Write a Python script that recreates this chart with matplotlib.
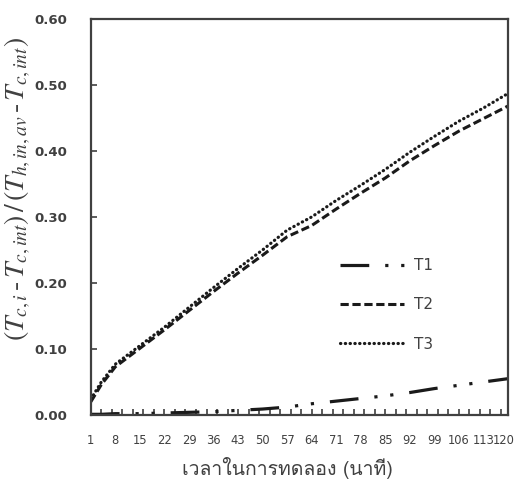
import numpy as np
import matplotlib
matplotlib.use('Agg')
import matplotlib.pyplot as plt
from matplotlib import font_manager
from matplotlib.ft2font import FT2Font
from matplotlib.transforms import ScaledTranslation

# READ-OFF VALUES (minute, dimensionless temperature ratio)
minutes = [1, 4, 8, 15, 22, 29, 36, 43, 50, 57, 64, 71, 78, 85, 92, 99, 106, 113, 120]
t1 = [0.001, 0.001, 0.002, 0.002, 0.003, 0.004, 0.005, 0.007, 0.009, 0.012,
      0.017, 0.021, 0.025, 0.029, 0.034, 0.040, 0.045, 0.050, 0.055]
t2 = [0.020, 0.046, 0.073, 0.101, 0.129, 0.158, 0.187, 0.215, 0.242, 0.270,
      0.287, 0.312, 0.336, 0.359, 0.385, 0.408, 0.430, 0.449, 0.468]
t3 = [0.024, 0.050, 0.077, 0.105, 0.133, 0.163, 0.193, 0.222, 0.250, 0.280,
      0.300, 0.325, 0.348, 0.372, 0.398, 0.422, 0.445, 0.465, 0.487]
xtick_labels = [1, 8, 15, 22, 29, 36, 43, 50, 57, 64, 71, 78, 85, 92, 99, 106, 113, 120]
yticks = [0.0, 0.1, 0.2, 0.3, 0.4, 0.5, 0.6]
series_names = ['T1', 'T2', 'T3']
xlabel = 'เวลาในการทดลอง (นาที)'


def thai_family():
    """Return the first installed family that has Thai glyphs."""
    for f in font_manager.fontManager.ttflist:
        try:
            cmap = FT2Font(f.fname).get_charmap()
        except Exception:
            continue
        if 0x0E27 in cmap and 0x0E32 in cmap:
            return f.name
    return 'DejaVu Sans'


GREY = '#404040'
INK = '#1a1a1a'

plt.rcParams['font.family'] = ['DejaVu Sans']
plt.rcParams['mathtext.fontset'] = 'stix'

fig = plt.figure(figsize=(5.16, 4.84), dpi=100)
ax = fig.add_axes([0.176, 0.1426, 0.8085, 0.8184])

ax.plot(minutes, t1, color=INK, lw=2.3, solid_capstyle='butt',
        dash_capstyle='butt', linestyle=(0, (9, 5, 1, 4, 1, 5)),
        label=series_names[0])
ax.plot(minutes, t2, color=INK, lw=2.2, dash_capstyle='butt',
        linestyle=(0, (2.7, 1.2)), label=series_names[1])
ax.plot(minutes, t3, color=INK, lw=2.3, dash_capstyle='round',
        linestyle=(0, (0.1, 1.4)), label=series_names[2])

ax.set_xlim(1, 120)
ax.set_ylim(0, 0.6)

# x: labels every 7 minutes (major, no mark), tick marks every 3 minutes (minor)
ax.xaxis.remove_overlapping_locs = False
ax.set_xticks(xtick_labels)
ax.set_xticklabels([str(v) for v in xtick_labels])
ax.set_xticks(np.arange(1, 121, 3), minor=True)
ax.tick_params(axis='x', which='major', length=0, pad=14,
               labelsize=8.3, labelcolor=GREY)
ax.tick_params(axis='x', which='minor', direction='in', length=4,
               width=1.2, color=GREY)
# nudge the last label in from the figure edge
last = ax.get_xticklabels()[-1]
last.set_transform(last.get_transform() +
                   ScaledTranslation(-0.04, 0, fig.dpi_scale_trans))

ax.set_yticks(yticks)
ax.set_yticklabels(['%.2f' % v for v in yticks], fontweight='bold')
ax.tick_params(axis='y', direction='in', length=4, width=1.2, color=GREY,
               labelsize=9.5, labelcolor=GREY, pad=17)

for sp in ax.spines.values():
    sp.set_color(GREY)
    sp.set_linewidth(1.6)

ax.set_ylabel(r'$(T_{c,i}\,\text{-}\,T_{c,int})\,/\,(T_{h,in,av}\,\text{-}\,T_{c,int})$',
              fontsize=20, color=GREY)
ax.yaxis.set_label_coords(-0.139, 0.57)
ax.set_xlabel(xlabel, fontsize=14, color=GREY,
              family=[thai_family(), 'DejaVu Sans'])
ax.xaxis.set_label_coords(0.47, -0.106)

leg = ax.legend(loc='center left', bbox_to_anchor=(0.565, 0.278), frameon=False,
                fontsize=11, handlelength=4.2, labelspacing=1.6,
                handletextpad=0.6)
for txt in leg.get_texts():
    txt.set_color(GREY)

fig.savefig('out.png', dpi=100)
